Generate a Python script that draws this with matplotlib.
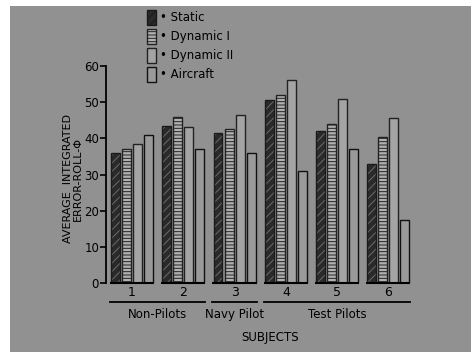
import numpy as np
import matplotlib.pyplot as plt
from matplotlib.patches import Patch, Rectangle

# values
subjects = ["1", "2", "3", "4", "5", "6"]
series = ["Static", "Dynamic I", "Dynamic II", "Aircraft"]
static = [36, 43.5, 41.5, 50.5, 42, 33]
dynamic1 = [37, 46, 42.5, 52, 44, 40.5]
dynamic2 = [38.5, 43, 46.5, 56, 51, 45.5]
aircraft = [41, 37, 36, 31, 37, 17.5]
groups = ["Non-Pilots", "Navy Pilot", "Test Pilots"]
group_span = [(1, 2), (3, 3), (4, 6)]

bg = "#919191"
plt.rcParams["hatch.linewidth"] = 0.7

fig = plt.figure(figsize=(4.71, 3.52), dpi=100, facecolor="white")
# scanned page: gray area with a thin white margin top/left
fig.patches.append(Rectangle((10 / 471, 0), 1, 1 - 6 / 352, transform=fig.transFigure,
                             facecolor=bg, edgecolor="none", zorder=-10))

ax = fig.add_axes([106 / 471, 69 / 352, 308 / 471, 217 / 352])
ax.set_facecolor("none")

x = np.arange(1, 7)
w = 0.175
pitch = 0.215
styles = [
    dict(facecolor="#2a2a2a", edgecolor="#1a1a1a", hatch="////"),
    dict(facecolor="#b0b0b0", edgecolor="#222222", hatch="-----"),
    dict(facecolor="#a4a4a4", edgecolor="#222222", hatch=""),
    dict(facecolor="#9a9a9a", edgecolor="#111111", hatch=""),
]
data = [static, dynamic1, dynamic2, aircraft]
for k, (vals, st) in enumerate(zip(data, styles)):
    pos = x + (k - 1.5) * pitch
    bars = ax.bar(pos, vals, width=w, linewidth=1.0, **st)
    if k == 0:
        # lighter diagonal streaks on the dark bars
        for b in bars:
            b._hatch_color = (0.42, 0.42, 0.42, 1.0)

# baseline under each group
for xi in x:
    ax.plot([xi - 2 * pitch, xi + 2 * pitch], [0, 0], color="black", lw=1.5,
            clip_on=False, solid_capstyle="butt")

ax.set_xlim(0.493, 6.5)
ax.set_ylim(0, 60)
ax.set_yticks([0, 10, 20, 30, 40, 50, 60])
ax.set_xticks([])
for s in ["top", "right", "bottom"]:
    ax.spines[s].set_visible(False)
ax.spines["left"].set_linewidth(1.3)
ax.tick_params(axis="y", direction="out", length=4, width=1.2, pad=1, labelsize=8.5)

tr = ax.get_xaxis_transform()
for xi, lab in zip(x, subjects):
    ax.text(xi, -0.046, lab, transform=tr, ha="center", va="center", fontsize=9)

for name, (a, b) in zip(groups, group_span):
    ax.plot([a - 2 * pitch, b + 2 * pitch], [-0.0875, -0.0875], transform=tr,
            color="black", lw=1.3, clip_on=False)
    ax.text((a + b) / 2, -0.147, name, transform=tr, ha="center", va="center",
            fontsize=8.5)

ax.text(3.7, -0.249, "SUBJECTS", transform=tr, ha="center", va="center", fontsize=8.5)

ax.set_ylabel("AVERAGE  INTEGRATED\nERROR-ROLL-\u03a6", fontsize=8, linespacing=0.95)
ax.yaxis.set_label_coords(-0.075, 0.48)

handles = [Patch(linewidth=1.0, **st) for st in styles]
fig.legend(handles, ["\u2022 " + s for s in series], loc="upper left",
           bbox_to_anchor=(147 / 471, 1 - 10 / 352), frameon=False, fontsize=8.5,
           handlelength=0.75, handleheight=1.55, handletextpad=0.35, labelspacing=0.35,
           borderpad=0, borderaxespad=0)

fig.savefig("out.png", dpi=100, facecolor=fig.get_facecolor())
